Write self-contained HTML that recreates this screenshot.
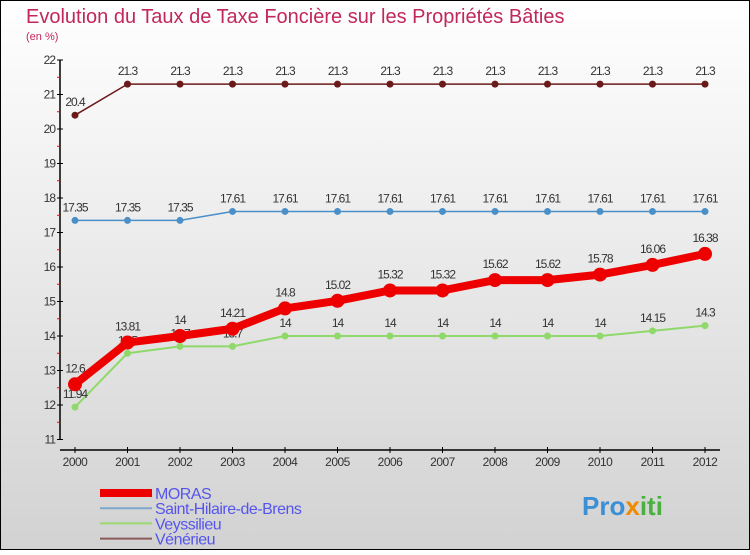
<!DOCTYPE html>
<html><head><meta charset="utf-8"><style>
html,body{margin:0;padding:0}
body{width:750px;height:550px;overflow:hidden;font-family:"Liberation Sans",sans-serif}
</style></head><body>
<svg width="750" height="550" xmlns="http://www.w3.org/2000/svg">
<defs><linearGradient id="bg" x1="0" y1="0" x2="0" y2="1"><stop offset="0" stop-color="#ffffff"/><stop offset="1" stop-color="#d2d2d2"/></linearGradient></defs>
<rect x="0.5" y="0.5" width="749" height="549" fill="url(#bg)" stroke="#000"/>
<text x="26" y="23" font-size="20" fill="#c2275a">Evolution du Taux de Taxe Foncière sur les Propriétés Bâties</text>
<text x="26" y="40" font-size="11" fill="#c2275a">(en %)</text>
<g id="axes"></g>
<g id="series"></g>
<g id="legend"></g>
<text x="582" y="515" font-size="26" font-weight="bold" fill="#3a8fd6">Pro<tspan fill="#f08a00">x</tspan><tspan fill="#4ab040">iti</tspan></text>
</svg>
<script>
const years=[2000,2001,2002,2003,2004,2005,2006,2007,2008,2009,2010,2011,2012];
const yTicks=[11,12,13,14,15,16,17,18,19,20,21,22];
const moras=[12.6,13.81,14,14.21,14.8,15.02,15.32,15.32,15.62,15.62,15.78,16.06,16.38];
const stHilaire=[17.35,17.35,17.35,17.61,17.61,17.61,17.61,17.61,17.61,17.61,17.61,17.61,17.61];
const veyssilieu=[11.94,13.5,13.7,13.7,14,14,14,14,14,14,14,14.15,14.3];
const venerieu=[20.4,21.3,21.3,21.3,21.3,21.3,21.3,21.3,21.3,21.3,21.3,21.3,21.3];
const seriesNames=["MORAS","Saint-Hilaire-de-Brens","Veyssilieu","Vénérieu"];
const NS="http://www.w3.org/2000/svg";
function xs(i){return 75+i*52.5;}
function ys(v){return 60+(22-v)*34.5;}
function mk(tag,attrs,parent){const e=document.createElementNS(NS,tag);for(const k in attrs)e.setAttribute(k,attrs[k]);parent.appendChild(e);return e;}
const ax=document.getElementById('axes');
let l=mk('line',{x1:60,y1:60,x2:60,y2:440,stroke:'#000','stroke-width':1.5},ax);


l=mk('line',{x1:60,y1:450,x2:720,y2:450,stroke:'#000','stroke-width':1.5},ax);


yTicks.forEach((t,i)=>{
  const y=ys(t);
  mk('line',{x1:57,y1:y,x2:63,y2:y,stroke:'#000'},ax);
  if(i<yTicks.length-1) mk('line',{x1:57,y1:y-17.25,x2:60,y2:y-17.25,stroke:'#f00'},ax);
  const tx=mk('text',{x:55,y:y+4,'font-size':12,'text-anchor':'end',fill:'#333','letter-spacing':'-1'},ax);
  tx.textContent=t;
  
  
});
years.forEach((yr,i)=>{
  const x=xs(i);
  mk('line',{x1:x,y1:447,x2:x,y2:453,stroke:'#000'},ax);
  const tx=mk('text',{x:x,y:466,'font-size':12,'text-anchor':'middle',fill:'#333','letter-spacing':'-0.5'},ax);
  tx.textContent=yr;
  
  
});
const sg=document.getElementById('series');
function drawSeries(data,color,w,r,name,labelOff){
  const g=mk('g',{},sg);
  
  
  mk('polyline',{points:data.map((v,i)=>xs(i)+','+ys(v)).join(' '),fill:'none',stroke:color,'stroke-width':w,'stroke-linejoin':'round'},g);
  data.forEach((v,i)=>{
    const c=mk('circle',{cx:xs(i),cy:ys(v),r:r,fill:color},g);
    
    
    const t=mk('text',{x:xs(i),y:ys(v)+labelOff,'font-size':12,'text-anchor':'middle',fill:'#333','letter-spacing':'-1'},g);
    t.textContent=v;
    
    
  });
}
drawSeries(venerieu,'#6b1a1a',1.5,3.5,'venerieu-series',-9);
drawSeries(stHilaire,'#4a8fc8',1.5,3.5,'st-hilaire-series',-9);
drawSeries(veyssilieu,'#8fd86a',2,3.5,'veyssilieu-series',-9);
drawSeries(moras,'#ee0000',8,7,'moras-series',-12);
const lg=document.getElementById('legend');
const lcol=['#ee0000','#7fa8cc','#9ad870','#8b5a5a'];
const lw=[8,2,2,2];
seriesNames.forEach((n,i)=>{
  const y=493+i*15.2;
  const g=mk('g',{},lg);
  
  
  mk('line',{x1:100,y1:y,x2:152,y2:y,stroke:lcol[i],'stroke-width':lw[i]},g);
  const t=mk('text',{x:155,y:y+6,'font-size':16,fill:'#5555ee','letter-spacing':'-0.5'},g);
  t.textContent=n;
});
</script>
</body></html>
